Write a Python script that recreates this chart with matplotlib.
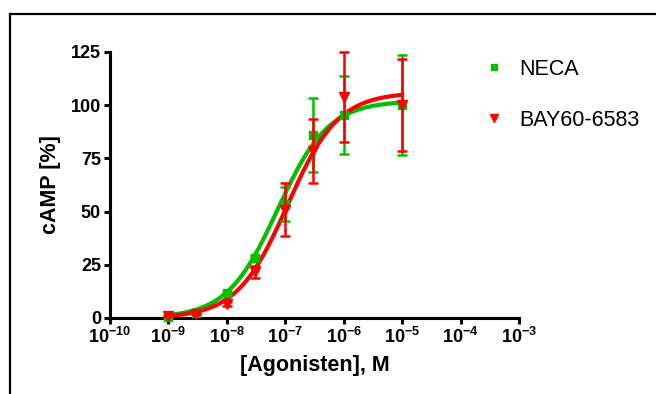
import numpy as np
import matplotlib
matplotlib.use("Agg")
import matplotlib.pyplot as plt
from matplotlib.lines import Line2D

plt.rcParams['font.family'] = ['Liberation Sans', 'DejaVu Sans']
plt.rcParams['mathtext.fontset'] = 'custom'
plt.rcParams['mathtext.rm'] = 'Liberation Sans:bold'
plt.rcParams['mathtext.bf'] = 'Liberation Sans:bold'
plt.rcParams['mathtext.default'] = 'rm'

# Agonist concentrations (M)
conc = [1e-9, 3e-9, 1e-8, 3e-8, 1e-7, 3e-7, 1e-6, 1e-5]

# NECA response (% cAMP) and SEM
neca_mean = [0.5, 2.5, 11.6, 28.3, 53.7, 86.2, 95.5, 100.0]
neca_sem = [0.0, 0.0, 0.5, 1.0, 8.0, 17.4, 18.2, 23.5]

# BAY60-6583 response (% cAMP) and SEM
bay_mean = [1.0, 2.0, 6.5, 21.6, 50.9, 78.3, 103.9, 100.0]
bay_sem = [0.0, 0.0, 1.0, 2.8, 12.4, 15.0, 21.0, 21.5]

# Sigmoidal dose-response fit parameters: bottom, top, EC50, Hill slope
neca_fit = [0.0, 102.0, 7.4e-8, 1.0]
bay_fit = [0.0, 106.0, 1.09e-7, 1.0]

series_labels = ["NECA", "BAY60-6583"]
y_ticks = [0, 25, 50, 75, 100, 125]
x_ticks = [1e-10, 1e-9, 1e-8, 1e-7, 1e-6, 1e-5, 1e-4, 1e-3]

GREEN = "#00c000"
RED = "#ff0000"


def hill(x, bottom, top, ec50, slope):
    return bottom + (top - bottom) / (1.0 + (ec50 / x) ** slope)


fig = plt.figure(figsize=(6.56, 3.94), dpi=100)
ax = fig.add_axes([110 / 656, 1 - 318 / 394, (519 - 110) / 656, (318 - 52) / 394])

xs = np.logspace(np.log10(conc[0]), np.log10(conc[-1]), 300)
ax.plot(xs, hill(xs, *neca_fit), color=GREEN, lw=3.0, zorder=3, clip_on=False)
ax.plot(xs, hill(xs, *bay_fit), color=RED, lw=3.0, zorder=4, clip_on=False)

ax.errorbar(conc, neca_mean, yerr=neca_sem, fmt='s', color=GREEN, ms=5.5,
            elinewidth=1.8, capsize=3.8, capthick=1.8, zorder=5, clip_on=False)
ax.errorbar(conc, bay_mean, yerr=bay_sem, fmt='v', color=RED, ms=7,
            elinewidth=1.8, capsize=3.8, capthick=1.8, zorder=6, clip_on=False)

ax.set_xscale('log')
ax.set_xlim(x_ticks[0], x_ticks[-1])
ax.set_ylim(y_ticks[0], y_ticks[-1])
ax.set_xticks(x_ticks)
ax.set_xticklabels([r'$10^{%d}$' % int(round(np.log10(v))) for v in x_ticks])
ax.xaxis.set_minor_locator(matplotlib.ticker.NullLocator())
ax.set_yticks(y_ticks)
ax.set_yticklabels([str(v) for v in y_ticks])

for s in ['top', 'right']:
    ax.spines[s].set_visible(False)
for s in ['left', 'bottom']:
    ax.spines[s].set_linewidth(2.2)

ax.tick_params(axis='both', which='major', length=4.5, width=2.2, pad=2,
               labelsize=13, direction='out')
for lab in ax.get_yticklabels():
    lab.set_fontweight('bold')

ax.set_ylabel("cAMP [%]", fontsize=15.5, fontweight='bold', labelpad=7)
ax.set_xlabel("[Agonisten], M", fontsize=15.5, fontweight='bold', labelpad=6)

handles = [
    Line2D([], [], marker='s', color=GREEN, ls='none', ms=5),
    Line2D([], [], marker='v', color=RED, ls='none', ms=6),
]
fig.legend(handles, series_labels, loc='upper left',
           bbox_to_anchor=(483 / 656, 1 - 59 / 394), frameon=False,
           fontsize=15.5, handlelength=1.0, handletextpad=0.68, labelspacing=1.38,
           borderaxespad=0, borderpad=0)

# Outer frame lines (left and top)
x0 = 10 / 656
y0 = 1 - 14 / 394
fig.add_artist(Line2D([x0, x0], [0, y0], color='black', lw=1.6,
                      transform=fig.transFigure, solid_capstyle='projecting'))
fig.add_artist(Line2D([x0, 1], [y0, y0], color='black', lw=1.6,
                      transform=fig.transFigure, solid_capstyle='projecting'))

fig.savefig("out.png", dpi=100)
